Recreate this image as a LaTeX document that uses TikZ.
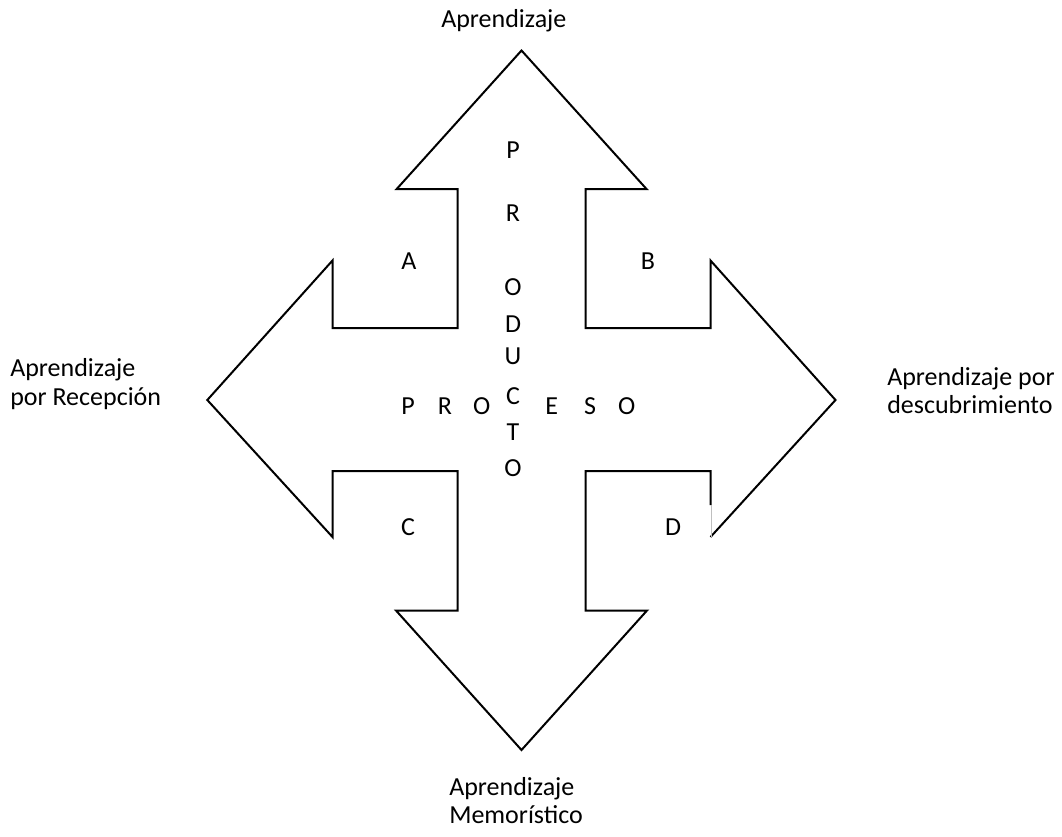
\documentclass[tikz,border=0pt]{standalone}
\usepackage{fontspec}
\setmainfont{Carlito}
\begin{document}
\begin{tikzpicture}[x=0.75pt,y=-0.75pt,
  outline/.style={draw=black,line width=1.5pt,line join=miter},
  faint/.style={draw=black!25,line width=0.5pt},
  lbl/.style={anchor=base west,inner sep=0pt,font=\fontsize{19.5}{23}\selectfont},
  letter/.style={anchor=center,inner sep=0pt,font=\fontsize{19.5}{23}\selectfont}]
\useasboundingbox[fill=white] (0,0) rectangle (1062,836);
% four-way arrow outline (gap on the right side near D as in the reference)
\draw[outline] (710.5,505) -- (710.5,471) -- (585.5,471) -- (585.5,610.5) -- (647,610.5)
  -- (521.5,750) -- (396,610.5) -- (457.5,610.5) -- (457.5,471) -- (332.5,471)
  -- (332.5,537) -- (207.3,400) -- (332.5,260.5) -- (332.5,328) -- (457.5,328)
  -- (457.5,189) -- (396.7,189) -- (521.5,50.5) -- (646.5,189) -- (585.5,189)
  -- (585.5,328) -- (710.5,328) -- (710.5,260.5) -- (835.5,400) -- (710.5,537);
\draw[faint] (711.5,505) -- (711.5,537);
% labels
\node[lbl] (top) at (441,27) {Aprendizaje};
\node[lbl] (left1) at (10,376) {Aprendizaje};
\node[lbl] (left2) at (10,405) {por Recepción};
\node[lbl] (right1) at (887,385) {Aprendizaje por};
\node[lbl] (right2) at (887,413) {descubrimiento};
\node[lbl] (bot1) at (449,795) {Aprendizaje};
\node[lbl] (bot2) at (449,823) {Memorístico};
% quadrant letters
\node[letter] (qa) at (409,261) {A};
\node[letter] (qb) at (648,261) {B};
\node[letter] (qc) at (408,527) {C};
\node[letter] (qd) at (673,527) {D};
% PRODUCTO (vertical)
\node[letter] (p1) at (513,150) {P};
\node[letter] (p2) at (513,213) {R};
\node[letter] (p3) at (513,287) {O};
\node[letter] (p4) at (513,324) {D};
\node[letter] (p5) at (513,356) {U};
\node[letter] (p6) at (513,396) {C};
\node[letter] (p7) at (513,432) {T};
\node[letter] (p8) at (513,468) {O};
% PROCESO (horizontal, sharing the C of PRODUCTO)
\node[letter] (h1) at (408,406) {P};
\node[letter] (h2) at (445,406) {R};
\node[letter] (h3) at (481.7,406) {O};
\node[letter] (h5) at (551.7,406) {E};
\node[letter] (h6) at (590,406) {S};
\node[letter] (h7) at (626.7,406) {O};
\end{tikzpicture}
\end{document}
